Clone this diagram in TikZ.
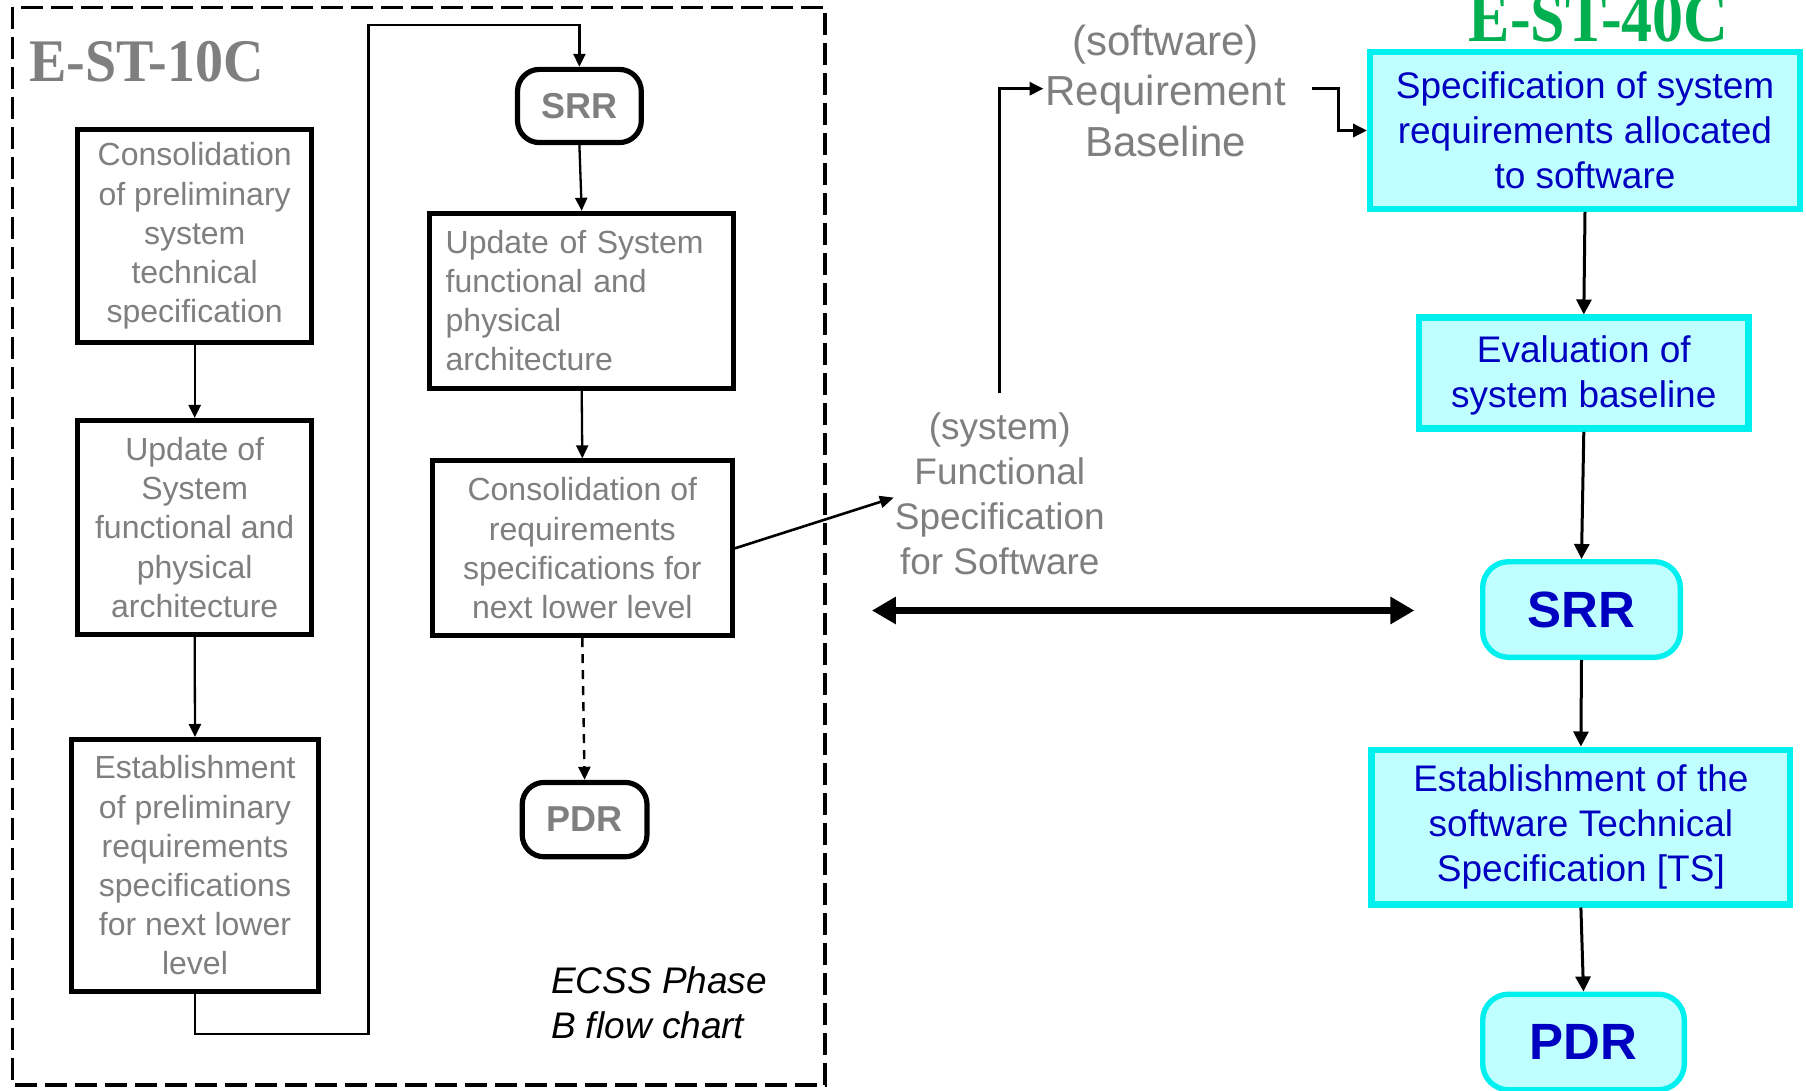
\documentclass[tikz,border=0pt]{standalone}
\usepackage{fontspec}
\setmainfont{Liberation Sans}
\newfontfamily\serifbold{Liberation Serif}
\usetikzlibrary{arrows.meta}
\definecolor{txtgray}{HTML}{7F7F7F}
\definecolor{cyanb}{HTML}{00F0F0}
\definecolor{cyanf}{HTML}{C0FFFF}
\definecolor{bluet}{HTML}{0000C0}
\definecolor{greent}{HTML}{00B050}
\tikzset{
  graybox/.style={draw=black, line width=2.5pt, fill=white, text=txtgray,
    font=\fontsize{16}{19.6}\selectfont, align=center, inner sep=0pt},
  grayrr/.style={graybox, rounded corners=11pt, line width=2.6pt,
    font=\bfseries\fontsize{18}{21}\selectfont},
  cyanbox/.style={draw=cyanb, line width=3.2pt, fill=cyanf, text=bluet,
    font=\fontsize{18.5}{22.5}\selectfont, align=center, inner sep=0pt},
  cyanrr/.style={cyanbox, rounded corners=13pt, line width=2.7pt,
    font=\bfseries\fontsize{25.5}{30}\selectfont},
  thinarr/.style={draw=black, line width=1.15pt, -{Triangle[length=6.5pt,width=6pt]}},
  rightarr/.style={draw=black, line width=1.5pt, -{Triangle[length=7.5pt,width=7.5pt]}},
  dasharr/.style={thinarr, line width=1.2pt, dash pattern=on 4.5pt off 3.5pt},
  medarr/.style={draw=black, line width=1.5pt, -{Triangle[length=7pt,width=6.5pt]}},
  bigarr/.style={draw=black, line width=3.5pt, {Triangle[length=12pt,width=13pt]}-{Triangle[length=12pt,width=13pt]}},
  graylabel/.style={text=txtgray, align=center, inner sep=0pt},
}
\begin{document}
\begin{tikzpicture}[x=0.5pt,y=-0.5pt]
\useasboundingbox (0,0) rectangle (1806,1091);
\fill[white] (0,0) rectangle (1806,1091);

% dashed frame
\draw[line width=1.8pt, dash pattern=on 11pt off 4pt] (12.5,7.5) rectangle (825,1085);

% titles
\node[anchor=base west, inner sep=0pt, text=txtgray, font=\serifbold\bfseries\fontsize{28}{30}\selectfont] (t10) at (29,82) {\scalebox{1}[1.08]{E-ST-10C}};
\node[anchor=base, inner sep=0pt, text=greent, font=\serifbold\bfseries\fontsize{31}{33}\selectfont] (t40) at (1598.7,42) {\scalebox{1}[1.15]{E-ST-40C}};

% left column
\node[graybox, minimum width=117.25pt, minimum height=106.9pt] (A) at (194.7,236.1)
  {Consolidation\\of preliminary\\system\\technical\\specification};
\node[graybox, minimum width=117.25pt, minimum height=107pt] (B) at (194.7,527.5)
  {Update of\\System\\functional and\\physical\\architecture};
\node[graybox, minimum width=123.5pt, minimum height=126pt] (C) at (195,865.5)
  {Establishment\\of preliminary\\requirements\\specifications\\for next lower\\level};

% middle column
\node[grayrr, minimum width=61.9pt, minimum height=36.6pt] (SRR1) at (579.4,106) {SRR};
\node[graybox, align=left, text width=136pt, inner xsep=7.95pt, minimum height=87.4pt] (D) at (581.7,300.7)
  {Update of System\\functional and\\physical\\architecture};
\node[graybox, minimum width=150.2pt, minimum height=87.4pt] (E) at (582.3,548.3)
  {Consolidation of\\requirements\\specifications for\\next lower level};
\node[grayrr, minimum width=62.4pt, minimum height=37.2pt] (PDR1) at (584.6,819.6) {PDR};

\node[anchor=west, align=left, inner sep=0pt, font=\itshape\fontsize{18.5}{22.5}\selectfont] (ecss) at (550.6,1002.6)
  {ECSS Phase\\B flow chart};

% labels in the middle
\node[graylabel, font=\fontsize{18.5}{22.5}\selectfont] (FS) at (999.8,494)
  {(system)\\Functional\\Specification\\for Software};
\node[graylabel, font=\fontsize{21}{25.3}\selectfont] (RB) at (1165.6,90.6)
  {(software)\\Requirement\\Baseline};

% right column
\node[cyanbox, minimum width=214.8pt, minimum height=78.3pt] (F) at (1585,130.5)
  {Specification of system\\requirements allocated\\to software};
\node[cyanbox, minimum width=164.8pt, minimum height=55.5pt, text depth=1.5pt] (G) at (1583.8,373.2)
  {Evaluation of\\system baseline};
\node[cyanrr, minimum width=98.8pt, minimum height=47.8pt] (SRR2) at (1581.5,609.5) {SRR};
\node[cyanbox, minimum width=209.3pt, minimum height=77.3pt] (H) at (1580.9,827)
  {Establishment of the\\software Technical\\Specification [TS]};
\node[cyanrr, minimum width=100.8pt, minimum height=47.8pt] (PDR2) at (1583.5,1042) {PDR};

% left connectors
\draw[thinarr] (A.south) -- (B.north);
\draw[thinarr] (B.south) -- (C.north);
\coordinate (l1) at (195,1034.3);
\coordinate (l2) at (368.6,1034.3);
\coordinate (l3) at (368.6,25.3);
\coordinate (l4) at (579.4,25.3);
\draw[thinarr] (C.south) -- (l1) -- (l2) -- (l3) -- (l4) -- (SRR1.north);
\draw[thinarr] (SRR1.south) -- (D.north);
\draw[thinarr] (D.south) -- (E.north);
\draw[dasharr] (E.south) -- (PDR1.north);

% middle connectors
\coordinate (fsIn) at (893.8,497.6);
\draw[line width=1.3pt, -{Triangle[length=7pt,width=6pt]}] (E.east) -- (fsIn);
\coordinate (fsTop) at (999.8,392.8);
\coordinate (rbIn) at (1043.5,88.7);
\draw[medarr] (fsTop) |- (rbIn);
\coordinate (rbOut) at (1311.9,88.7);
\coordinate (rbK) at (1338.4,88.7);
\draw[medarr, line width=1.7pt] (rbOut) -- (rbK) |- (F.west);

\coordinate (dL) at (871.9,610.5);
\coordinate (dR) at (1414.4,610.5);
\draw[bigarr] (dL) -- (dR);

% right connectors
\draw[rightarr] (F.south) -- (G.north);
\draw[rightarr] (G.south) -- (SRR2.north);
\draw[rightarr] (SRR2.south) -- (H.north);
\draw[rightarr] (H.south) -- (PDR2.north);
\end{tikzpicture}
\end{document}
